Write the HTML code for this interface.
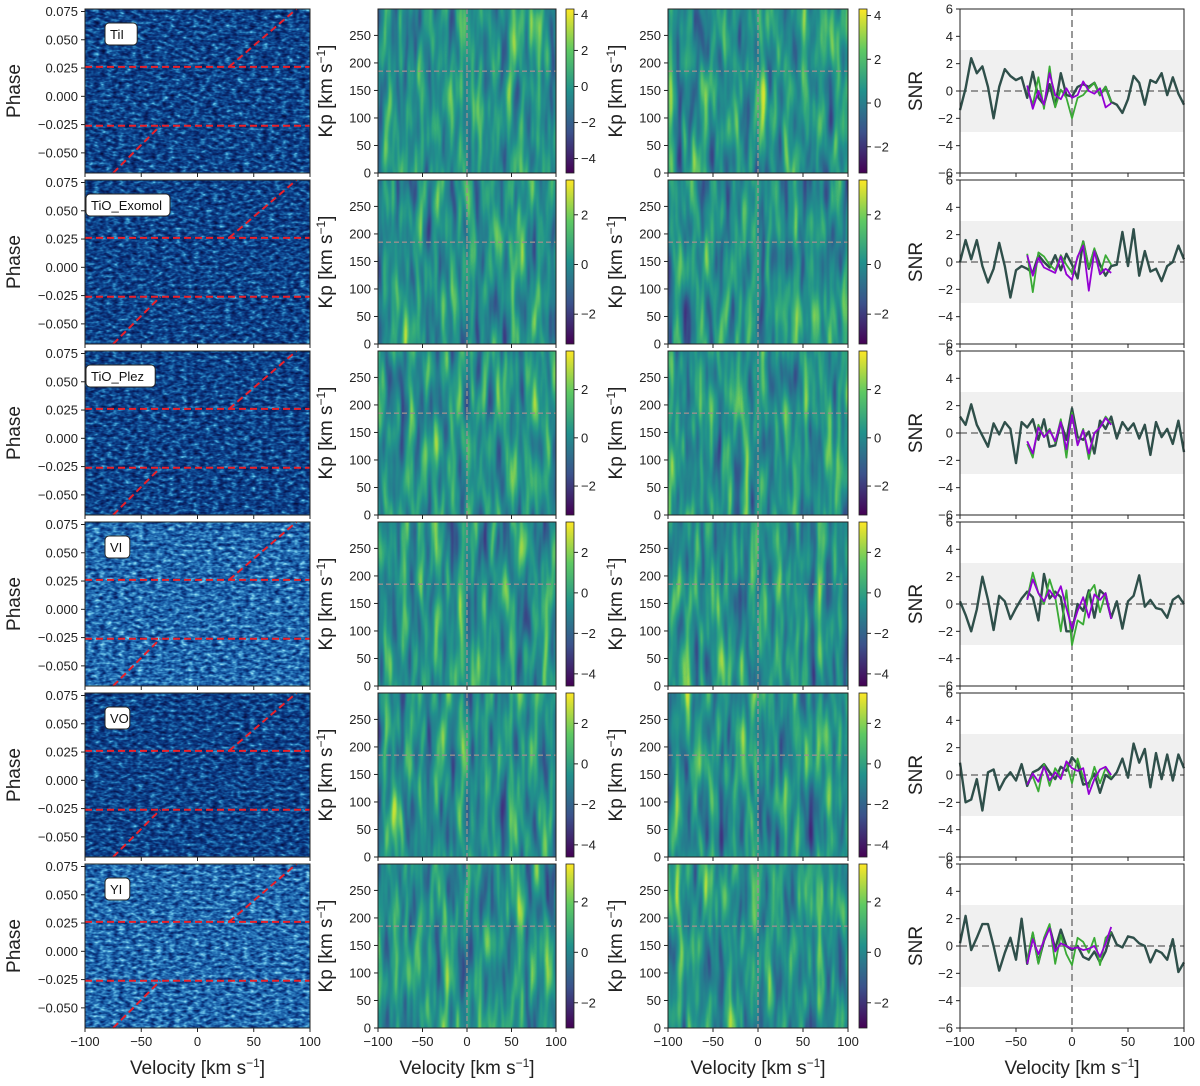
<!DOCTYPE html>
<html><head><meta charset="utf-8">
<style>
html,body{margin:0;padding:0;background:#fff;}
svg{display:block;font-family:"Liberation Sans","DejaVu Sans",sans-serif;}
</style></head>
<body>
<svg id="fig" width="1200" height="1086" viewBox="0 0 1200 1086" xmlns="http://www.w3.org/2000/svg">
<defs>
  <linearGradient id="viridis" x1="0" y1="1" x2="0" y2="0">
    <stop offset="0" stop-color="#440154"/><stop offset="0.25" stop-color="#3b528b"/>
    <stop offset="0.5" stop-color="#21918c"/><stop offset="0.75" stop-color="#5ec962"/>
    <stop offset="1" stop-color="#fde725"/>
  </linearGradient>
</defs>
</svg>
<script>
// ---- data ----
const species = ["TiI","TiO_Exomol","TiO_Plez","VI","VO","YI"];
const velocityTicks = [-100,-50,0,50,100];
const phaseTicks = [0.075,0.050,0.025,0.000,-0.025,-0.050];
const kpTicks = [0,50,100,150,200,250];
const snrTicks = [6,4,2,0,-2,-4,-6];
const ingressPhase = [-0.026, 0.026];
const kpPlanet = 185;
const cbRange2 = [[-4.8,4.3],[-3.2,3.4],[-3.2,3.6],[-4.6,3.5],[-4.6,3.5],[-3.0,3.5]];
const cbTicks2 = [[4,2,0,-2,-4],[2,0,-2],[2,0,-2],[2,0,-2,-4],[2,0,-2,-4],[2,0,-2]];
const cbRange3 = [[-3.2,4.3],[-3.2,3.4],[-3.2,3.6],[-4.6,3.5],[-4.6,3.5],[-3.0,3.5]];
const cbTicks3 = [[4,2,0,-2],[2,0,-2],[2,0,-2],[2,0,-2,-4],[2,0,-2,-4],[2,0,-2]];
const velGrid = [-100,-95,-90,-85,-80,-75,-70,-65,-60,-55,-50,-45,-40,-35,-30,-25,-20,-15,-10,-5,0,5,10,15,20,25,30,35,40,45,50,55,60,65,70,75,80,85,90,95,100];
const velSub = [-40,-35,-30,-25,-20,-15,-10,-5,0,5,10,15,20,25,30,35];
const snrAll1 = [-1.4,0.2,2.4,1.3,1.8,0.3,-2.0,0.3,1.6,1.1,0.8,1.0,-0.5,1.4,-0.5,-1.0,0.5,-1.1,1.3,-0.3,-0.4,0.3,0.5,0.3,0.6,-0.3,0.3,-0.8,-1.0,-1.6,-0.6,1.1,0.6,-1.0,0.8,0.6,1.3,-0.3,1.0,-0.2,-1.0];
const snrGreen1 = [0.2,-1.0,1.0,-1.3,1.8,-1.2,0.1,-0.5,-2.0,-0.5,-0.3,0.2,0.6,-0.3,0.3,-0.8];
const snrPurple1 = [0.4,-1.3,0.0,-1.0,1.3,-0.3,-0.6,0.2,-0.5,-0.3,0.7,0.0,-0.2,0.2,-1.2,-0.9];
const snrAll2 = [0.0,1.6,0.2,1.6,-0.3,-1.5,-0.5,1.4,-0.3,-2.6,-0.6,-0.3,-0.5,-0.8,0.5,0.0,-0.4,0.5,-0.6,0.6,-0.2,-1.2,1.5,-0.5,0.9,-0.2,-1.0,-0.3,-0.2,2.2,-0.3,2.4,-1.0,0.8,-0.7,-0.5,-1.4,-0.3,0.0,1.2,0.2];
const snrGreen2 = [0.6,-2.2,0.7,0.4,-0.2,-0.6,0.5,-0.2,-0.8,0.3,1.5,-0.4,1.0,-0.9,0.5,-0.2];
const snrPurple2 = [0.5,-1.0,0.3,-0.4,-0.6,-0.8,0.4,-0.9,-1.3,0.4,1.2,-2.1,0.8,-0.9,-0.5,-0.8];
const snrAll3 = [1.2,0.6,2.1,0.6,-0.2,-1.0,0.7,-0.1,0.8,0.3,-2.2,0.8,0.4,1.0,-0.5,1.0,-1.0,-0.9,0.8,-0.5,1.8,-0.3,-0.5,0.1,-1.5,0.9,0.3,1.2,-0.4,0.8,0.2,0.7,-0.4,0.6,-1.6,0.8,-0.3,0.3,-0.8,0.9,-1.4];
const snrGreen3 = [-0.8,-1.8,0.6,-0.3,0.3,-0.7,1.0,-1.8,1.5,-0.8,0.3,-1.9,0.0,0.4,1.2,0.7];
const snrPurple3 = [-0.6,-1.5,0.4,-0.3,0.2,-0.6,0.8,-1.2,1.3,-0.9,0.2,-1.5,0.0,0.4,1.1,0.6];
const snrAll4 = [0.2,-0.8,-2.0,-0.4,2.0,0.3,-1.9,0.6,0.2,-1.1,-0.3,0.4,0.9,0.5,-1.2,2.2,0.4,0.9,0.5,-2.0,-2.0,0.0,-0.5,1.0,-1.0,1.0,0.6,-1.0,0.2,-1.8,0.2,0.6,2.1,-0.2,0.3,-0.3,-0.4,-1.0,0.3,0.6,0.0];
const snrGreen4 = [0.4,2.3,0.8,0.0,1.8,0.5,-2.0,1.0,-3.0,-1.2,-1.5,0.8,1.4,-0.6,0.8,-1.0];
const snrPurple4 = [0.3,1.8,0.8,0.2,1.0,0.4,1.3,-0.3,-1.8,-0.5,0.5,-1.0,0.7,0.3,0.8,-1.1];
const snrAll5 = [0.9,-2.0,-1.8,-0.3,-2.6,0.2,0.4,-1.1,-0.3,0.2,-0.4,0.8,-0.8,0.2,0.4,0.8,0.2,-0.3,0.6,0.3,1.3,0.8,-0.7,-0.6,0.1,-1.3,0.0,-0.3,0.2,1.2,-0.2,2.3,0.9,1.9,-0.9,1.6,-0.3,1.5,-0.4,1.5,0.5];
const snrGreen5 = [-0.6,-0.1,-1.2,0.8,-0.8,0.5,-0.1,0.9,-0.6,1.2,-0.2,-0.9,0.6,-0.6,0.5,-0.2];
const snrPurple5 = [-0.7,0.1,-0.5,0.6,-0.4,0.2,-0.3,1.0,0.5,0.3,0.5,-1.4,-0.3,0.4,0.6,0.0];
const snrAll6 = [0.2,2.2,-0.3,0.6,1.6,1.6,0.0,-1.8,-0.5,0.6,-1.0,2.0,-1.3,0.9,-1.2,0.4,1.4,-0.2,1.2,0.0,-0.3,0.0,-0.8,-1.0,-0.4,-1.2,-0.4,1.0,0.1,-0.1,0.7,0.6,0.2,0.0,-1.2,-0.3,-0.5,-1.0,0.5,-1.9,-1.2];
const snrGreen6 = [-1.0,1.0,-1.3,0.6,1.6,-1.3,0.8,-0.6,-1.4,0.6,0.3,-0.5,0.6,-1.4,0.6,1.0];
const snrPurple6 = [-1.3,0.5,-0.6,0.4,1.3,-0.4,0.2,0.0,-0.2,-0.1,-0.3,-0.2,0.0,-0.8,0.2,1.4];
const snrAll = [snrAll1,snrAll2,snrAll3,snrAll4,snrAll5,snrAll6];
const snrGreen = [snrGreen1,snrGreen2,snrGreen3,snrGreen4,snrGreen5,snrGreen6];
const snrPurple = [snrPurple1,snrPurple2,snrPurple3,snrPurple4,snrPurple5,snrPurple6];

// ---- layout ----
const NS="http://www.w3.org/2000/svg";
const svg=document.getElementById('fig');
const defs=svg.querySelector('defs');
function el(tag,attrs,parent){const e=document.createElementNS(NS,tag);for(const k in attrs)e.setAttribute(k,attrs[k]);(parent||svg).appendChild(e);return e;}
const rowTop=i=>9+i*171, rowH=164;
const C1=[85,310], C2=[378,556], C3=[668,848], C4=[960,1184];
const CB2=[566,574], CB3=[859,867];
const xScale=(c,v)=>c[0]+(v+100)/200*(c[1]-c[0]);
const phaseY=(i,p)=>rowTop(i)+(0.0772-p)/0.145*rowH;
const kpY=(i,k)=>rowTop(i)+rowH-k/298*rowH;
const snrY=(i,s)=>rowTop(i)+(6-s)/12*rowH;

function makeFilter(id,freq,seed,tables){
  const f=el('filter',{id:id,x:'0',y:'0',width:'1',height:'1','color-interpolation-filters':'sRGB'},defs);
  el('feTurbulence',{type:'fractalNoise',baseFrequency:freq,numOctaves:'2',seed:seed},f);
  el('feColorMatrix',{type:'matrix',values:'1 0 0 0 0 1 0 0 0 0 1 0 0 0 0 0 0 0 0 1'},f);
  const ct=el('feComponentTransfer',{},f);
  el('feFuncR',{type:'table',tableValues:tables[0]},ct);
  el('feFuncG',{type:'table',tableValues:tables[1]},ct);
  el('feFuncB',{type:'table',tableValues:tables[2]},ct);
}
const blueDark=["0.02 0.02 0.03 0.04 0.07 0.16 0.4 0.6","0.06 0.06 0.13 0.2 0.32 0.5 0.78 0.9","0.25 0.25 0.38 0.48 0.6 0.74 0.92 0.97"];
const blueLight=["0.03 0.03 0.04 0.08 0.17 0.34 0.6 0.7","0.1 0.1 0.2 0.33 0.48 0.68 0.88 0.95","0.35 0.35 0.48 0.62 0.74 0.86 0.96 0.98"];
const vir=["0.27 0.25 0.2 0.15 0.13 0.2 0.4 0.75 0.99","0.05 0.2 0.35 0.48 0.57 0.67 0.78 0.88 0.91","0.4 0.5 0.55 0.56 0.55 0.48 0.38 0.22 0.14"];

function ticksLeft(x,ys,labels,g){ys.forEach((y,k)=>{el('line',{x1:x-4,y1:y,x2:x,y2:y,stroke:'#222','stroke-width':1},g);const t=el('text',{x:x-7,y:y+4.5,'text-anchor':'end','font-size':13,fill:'#222'},g);t.textContent=labels[k];});}
function ticksBottom(c,y,labelsOn,g){velocityTicks.forEach(v=>{const x=xScale(c,v);el('line',{x1:x,y1:y,x2:x,y2:y+4,stroke:'#222','stroke-width':1},g);if(labelsOn){const t=el('text',{x:x,y:y+18,'text-anchor':'middle','font-size':13,fill:'#222'},g);t.textContent=v<0?'\u2212'+(-v):String(v);}});}
const fmt=v=>v<0?'\u2212'+(-v):String(v);

for(let i=0;i<6;i++){
  const top=rowTop(i), bot=top+rowH, last=i===5;
  makeFilter('fb'+i,'0.16 0.32',i*7+3,(i===3||i===5)?blueLight:blueDark);
  const g1=el('g',{});
  
  
  el('rect',{x:C1[0],y:top,width:C1[1]-C1[0],height:rowH,filter:'url(#fb'+i+')'},g1);
  ingressPhase.forEach(p=>{const l=el('line',{x1:C1[0],x2:C1[1],y1:phaseY(i,p),y2:phaseY(i,p),stroke:'#e8202a','stroke-width':2,'stroke-dasharray':'7,4'},g1);
    
    });
  el('line',{x1:xScale(C1,-75),y1:bot,x2:xScale(C1,-33),y2:phaseY(i,-0.026),stroke:'#e8202a','stroke-width':2,'stroke-dasharray':'7,4'},g1);
  el('line',{x1:xScale(C1,28),y1:phaseY(i,0.026),x2:xScale(C1,88),y2:top,stroke:'#e8202a','stroke-width':2,'stroke-dasharray':'7,4'},g1);
  el('rect',{x:C1[0],y:top,width:C1[1]-C1[0],height:rowH,fill:'none',stroke:'#222','stroke-width':1},g1);
  ticksLeft(C1[0],phaseTicks.map(p=>phaseY(i,p)),phaseTicks.map(p=>(p<0?'\u2212':'')+Math.abs(p).toFixed(3)),g1);
  ticksBottom(C1,bot,last,g1);
  const lbl=el('g',{});
  
  
  const lx=i===0||i===3||i===4||i===5?108:89;
  const tw=species[i].length*7.4+10;
  el('rect',{x:lx-3,y:top+14,width:tw,height:22,rx:4,fill:'#fff',stroke:'#222','stroke-width':1},lbl);
  const lt=el('text',{x:lx+2,y:top+30,'font-size':13,fill:'#111'},lbl);lt.textContent=species[i];
  const py=el('text',{transform:`translate(20,${top+rowH/2}) rotate(-90)`,'text-anchor':'middle','font-size':19,fill:'#222'});
  py.textContent='Phase';
  
  

  [[C2,CB2,cbRange2,cbTicks2,'a'],[C3,CB3,cbRange3,cbTicks3,'b']].forEach(([C,CB,rng,tks,s],j)=>{
    makeFilter('fv'+s+i,'0.12 0.014',i*13+j*5+1,vir);
    const g=el('g',{});
    
    
    el('rect',{x:C[0],y:top,width:C[1]-C[0],height:rowH,filter:'url(#fv'+s+i+')'},g);
    el('line',{x1:C[0],x2:C[1],y1:kpY(i,kpPlanet),y2:kpY(i,kpPlanet),stroke:'#9a8f8f','stroke-width':1.4,'stroke-dasharray':'5,3'},g);
    el('line',{x1:xScale(C,0),x2:xScale(C,0),y1:top,y2:bot,stroke:'#9a8f8f','stroke-width':1.4,'stroke-dasharray':'5,3'},g);
    el('rect',{x:C[0],y:top,width:C[1]-C[0],height:rowH,fill:'none',stroke:'#222','stroke-width':1},g);
    ticksLeft(C[0],kpTicks.map(k=>kpY(i,k)),kpTicks.map(String),g);
    ticksBottom(C,bot,last,g);
    const cb=el('g',{});
    
    
    el('rect',{x:CB[0],y:top,width:CB[1]-CB[0],height:rowH,fill:'url(#viridis)',stroke:'#222','stroke-width':0.8},cb);
    const r=rng[i];
    tks[i].forEach(v=>{const y=top+(r[1]-v)/(r[1]-r[0])*rowH;el('line',{x1:CB[1],x2:CB[1]+4,y1:y,y2:y,stroke:'#222'},cb);const t=el('text',{x:CB[1]+7,y:y+4.5,'font-size':13,fill:'#222'},cb);t.textContent=fmt(v);});
    const ky=el('text',{transform:`translate(${C[0]-46},${top+rowH/2}) rotate(-90)`,'text-anchor':'middle','font-size':19,fill:'#222'});
    ky.innerHTML='Kp [km s<tspan dy="-7" font-size="12">\u22121</tspan><tspan dy="7">]</tspan>';
    
    
  });

  const g4=el('g',{});
  
  
  el('rect',{x:C4[0],y:snrY(i,3),width:C4[1]-C4[0],height:snrY(i,-3)-snrY(i,3),fill:'#f0f0f0'},g4);
  el('line',{x1:C4[0],x2:C4[1],y1:snrY(i,0),y2:snrY(i,0),stroke:'#777','stroke-width':1.5,'stroke-dasharray':'7,4'},g4);
  el('line',{x1:xScale(C4,0),x2:xScale(C4,0),y1:top,y2:bot,stroke:'#777','stroke-width':1.5,'stroke-dasharray':'7,4'},g4);
  const mk=(xs,ys)=>xs.map((v,k)=>(k?'L':'M')+xScale(C4,v).toFixed(1)+','+snrY(i,ys[k]).toFixed(1)).join(' ');
  const la=el('path',{d:mk(velGrid,snrAll[i]),fill:'none',stroke:'#2f4f4a','stroke-width':2.4,'stroke-linejoin':'round'},g4);
  
  
  const lg=el('path',{d:mk(velSub,snrGreen[i]),fill:'none',stroke:'#3aaa35','stroke-width':1.8,'stroke-linejoin':'round'},g4);
  
  
  const lp=el('path',{d:mk(velSub,snrPurple[i]),fill:'none',stroke:'#9400d3','stroke-width':1.8,'stroke-linejoin':'round'},g4);
  
  
  el('rect',{x:C4[0],y:top,width:C4[1]-C4[0],height:rowH,fill:'none',stroke:'#222','stroke-width':1},g4);
  ticksLeft(C4[0],snrTicks.map(s=>snrY(i,s)),snrTicks.map(fmt),g4);
  ticksBottom(C4,bot,last,g4);
  const sy=el('text',{transform:`translate(${C4[0]-38},${top+rowH/2}) rotate(-90)`,'text-anchor':'middle','font-size':19,fill:'#222'});
  sy.textContent='SNR';
  
  
}
[C1,C2,C3,C4].forEach(C=>{
  const t=el('text',{x:(C[0]+C[1])/2,y:1074,'text-anchor':'middle','font-size':19,fill:'#222'});
  t.innerHTML='Velocity [km s<tspan dy="-7" font-size="12">\u22121</tspan><tspan dy="7">]</tspan>';
  
  
});
</script>
</body></html>
